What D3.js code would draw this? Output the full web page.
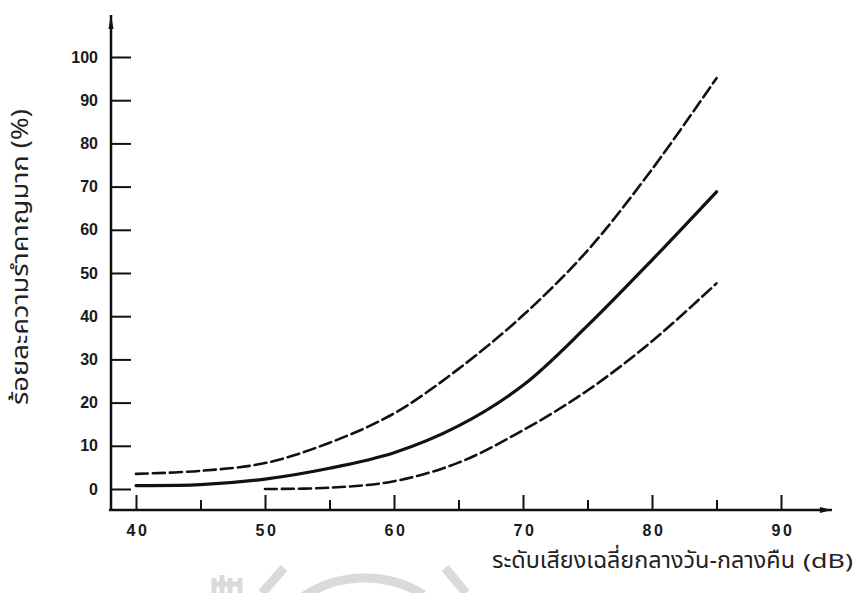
<!DOCTYPE html>
<html>
<head>
<meta charset="utf-8">
<script src="https://cdn.jsdelivr.net/npm/d3@7"></script>
<style>
  html, body { margin: 0; padding: 0; background: #fff; }
  svg { display: block; }
  .tick text { font-family: "Liberation Sans", Arial, sans-serif; font-weight: bold; fill: #1a1a1a; }
</style>
</head>
<body>
<svg id="chart" width="858" height="593"></svg>
<script>
// ---- data ----
const xMajorTicks = [40, 50, 60, 70, 80, 90];
const xMinorTicks = [45, 55, 65, 75, 85];
const yTicks = [0, 10, 20, 30, 40, 50, 60, 70, 80, 90, 100];

const meanX  = [40, 45, 50, 55, 60, 65, 70, 75, 80, 85];
const meanY  = [0.8, 1.0, 2.3, 4.8, 8.4, 14.6, 24.0, 37.8, 53.0, 68.8];

const upperX = [40, 45, 50, 55, 60, 65, 70, 75, 80, 85];
const upperY = [3.5, 4.2, 6.0, 10.7, 17.5, 27.8, 40.2, 55.2, 74.0, 95.1];

const lowerX = [50, 55, 60, 65, 70, 75, 80, 85];
const lowerY = [0.0, 0.3, 1.8, 6.1, 13.6, 22.8, 34.2, 47.6];

const xTitle = "ระดับเสียงเฉลี่ยกลางวัน-กลางคืน";
const xUnit = "(dB)";
const yTitle = "ร้อยละความรำคาญมาก (%)";

// ---- drawing ----
const svg = d3.select("#chart");
const x = d3.scaleLinear().domain([40, 90]).range([136, 781]);
const y = d3.scaleLinear().domain([0, 100]).range([489, 57]);

const axisY0 = 510;   // pixel row of the x axis line
const axisX0 = 111;   // pixel column of the y axis line

// faint watermark emblem at the bottom
const wm = svg.append("g").attr("fill", "none").attr("stroke", "#dadada");
wm.append("path").attr("stroke-width", 9)
  .attr("d", d3.arc()({innerRadius: 112, outerRadius: 112, startAngle: -0.62, endAngle: 0.55}))
  .attr("transform", "translate(365,690)");
wm.append("path").attr("stroke-width", 9)
  .attr("d", d3.arc()({innerRadius: 92, outerRadius: 92, startAngle: -0.5, endAngle: 0.45}))
  .attr("transform", "translate(365,690)");
wm.append("line").attr("stroke-width", 9).attr("x1", 262).attr("y1", 593).attr("x2", 284).attr("y2", 568);
wm.append("line").attr("stroke-width", 9).attr("x1", 445).attr("y1", 568).attr("x2", 466).attr("y2", 593);
wm.append("path").attr("stroke-width", 5).attr("d", "M214,593 L214,578 M222,593 L222,575 M230,593 L230,578 M214,584 L240,584 M240,593 L240,578");

// y axis (ticks pointing inward, labels on the left)
const yAxis = d3.axisLeft(y).tickValues(yTicks).tickSize(-20).tickPadding(13).tickFormat(d3.format("d"));
const gy = svg.append("g").attr("transform", `translate(${axisX0},0)`).call(yAxis);
gy.select(".domain").remove();
gy.selectAll(".tick line").attr("stroke", "#111").attr("stroke-width", 2);
gy.selectAll(".tick text").attr("font-size", 16);

// x axis major ticks
const xAxis = d3.axisBottom(x).tickValues(xMajorTicks).tickSize(-15).tickPadding(15).tickFormat(d3.format("d"));
const gx = svg.append("g").attr("transform", `translate(0,${axisY0})`).call(xAxis);
gx.select(".domain").remove();
gx.selectAll(".tick line").attr("stroke", "#111").attr("stroke-width", 2);
gx.selectAll(".tick text").attr("font-size", 16).attr("letter-spacing", 2.5).attr("dx", 1.5);

// x axis minor ticks
const xAxisMinor = d3.axisBottom(x).tickValues(xMinorTicks).tickSize(-10).tickFormat("");
const gxm = svg.append("g").attr("transform", `translate(0,${axisY0})`).call(xAxisMinor);
gxm.select(".domain").remove();
gxm.selectAll(".tick line").attr("stroke", "#111").attr("stroke-width", 2);

// axis lines with arrows
const xEnd = x(93.95);
svg.append("line").attr("x1", axisX0 - 2).attr("y1", axisY0).attr("x2", xEnd).attr("y2", axisY0)
  .attr("stroke", "#111").attr("stroke-width", 2.5);
svg.append("path").attr("d", `M${xEnd - 12},${axisY0 - 3} L${xEnd},${axisY0} L${xEnd - 12},${axisY0 + 3} Z`).attr("fill", "#111");
const yTop = y(109.7);
svg.append("line").attr("x1", axisX0).attr("y1", axisY0 + 1).attr("x2", axisX0).attr("y2", yTop)
  .attr("stroke", "#111").attr("stroke-width", 2.5);
svg.append("path").attr("d", `M${axisX0 - 2.5},${yTop + 14} L${axisX0},${yTop} L${axisX0 + 2.5},${yTop + 14} Z`).attr("fill", "#111");

// curves
const line = d3.line().x(d => x(d[0])).y(d => y(d[1])).curve(d3.curveCatmullRom.alpha(0.5));
const toPts = (xs, ys) => xs.map((v, i) => [v, ys[i]]);

svg.append("path").attr("d", line(toPts(upperX, upperY)))
  .attr("fill", "none").attr("stroke", "#111").attr("stroke-width", 2.6)
  .attr("stroke-dasharray", "12,5").attr("stroke-linecap", "round");
svg.append("path").attr("d", line(toPts(lowerX, lowerY)))
  .attr("fill", "none").attr("stroke", "#111").attr("stroke-width", 2.6)
  .attr("stroke-dasharray", "12,5").attr("stroke-linecap", "round");
svg.append("path").attr("d", line(toPts(meanX, meanY)))
  .attr("fill", "none").attr("stroke", "#111").attr("stroke-width", 3.2)
  .attr("stroke-linecap", "round");

// titles
const thaiFont = '"Noto Sans Thai", "Noto Sans Thai UI", "Leelawadee UI", "Noto Sans", sans-serif';
svg.append("text").attr("x", 492).attr("y", 568)
  .attr("font-family", thaiFont).attr("font-size", 23).attr("fill", "#222")
  .attr("textLength", 303).attr("lengthAdjust", "spacingAndGlyphs")
  .text(xTitle);
svg.append("text").attr("x", 803).attr("y", 568)
  .attr("font-family", thaiFont).attr("font-size", 19).attr("fill", "#222")
  .attr("textLength", 50).attr("lengthAdjust", "spacingAndGlyphs")
  .text(xUnit);

svg.append("text")
  .attr("transform", "translate(28,257) rotate(-90)")
  .attr("text-anchor", "middle")
  .attr("font-family", thaiFont).attr("font-size", 23).attr("fill", "#222")
  .attr("textLength", 296).attr("lengthAdjust", "spacingAndGlyphs")
  .text(yTitle);
</script>
</body>
</html>
